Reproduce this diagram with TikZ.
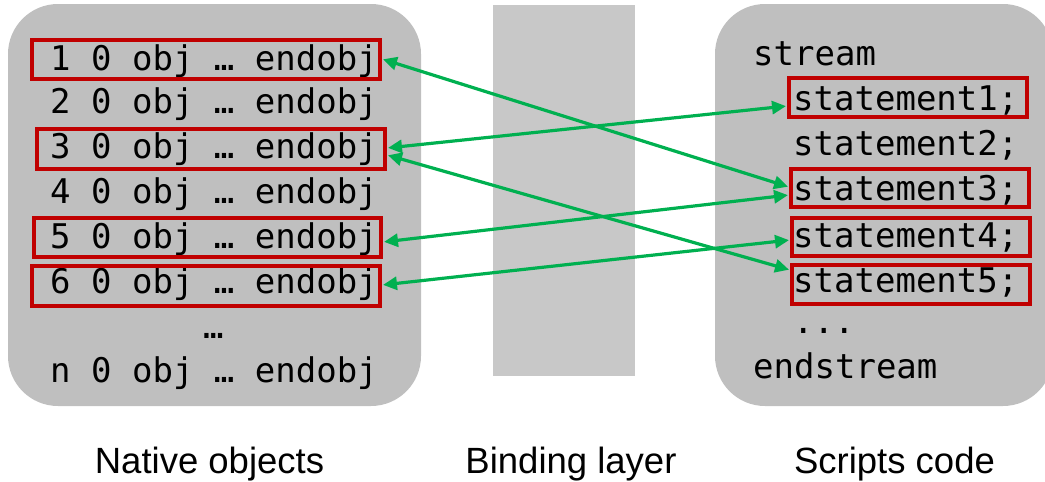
\documentclass[tikz,border=0pt]{standalone}
\usepackage{fontspec}
\setmainfont{Liberation Sans}
\newfontfamily\codefont{DejaVu Sans Mono}
\usetikzlibrary{arrows.meta}

\definecolor{panelgray}{HTML}{BFBFBF}
\definecolor{layergray}{HTML}{C8C8C8}
\definecolor{markred}{HTML}{C00000}
\definecolor{linkgreen}{HTML}{00B050}

\tikzset{
  panel/.style={fill=panelgray, draw=none, rounded corners=50pt},
  code/.style={anchor=base west, inner sep=0pt, font=\codefont\fontsize{34}{40}\selectfont},
  hilite/.style={draw=markred, line width=4pt, rectangle, inner sep=0pt},
  caption/.style={anchor=base, inner sep=0pt, font=\fontsize{36.5}{42}\selectfont},
  link/.style={draw=linkgreen, line width=3.2pt,
    {Triangle[length=14pt,width=13pt]}-{Triangle[length=14pt,width=13pt]}, shorten <=1pt, shorten >=1pt}
}

\begin{document}
\begin{tikzpicture}[x=1pt, y=-1pt]
  \useasboundingbox (0,0) rectangle (1045,482);

  % panels
  \begin{scope}
    \clip (0,0) rectangle (1045,482);
    \fill[panel] (8,4) rectangle (421,406);
    \fill[panel] (715,4) rectangle (1053,406);
  \end{scope}
  \fill[layergray] (493,5) rectangle (635,376);

  % native objects
  \node[code] (o1) at (50,70)  {1 0 obj … endobj};
  \node[code] (o2) at (50,113) {2 0 obj … endobj};
  \node[code] (o3) at (50,158) {3 0 obj … endobj};
  \node[code] (o4) at (50,203) {4 0 obj … endobj};
  \node[code] (o5) at (50,248) {5 0 obj … endobj};
  \node[code] (o6) at (50,293) {6 0 obj … endobj};
  \node[code] (od) at (203,338) {…};
  \node[code] (on) at (50,382) {n 0 obj … endobj};

  % script code
  \node[code] (st) at (753,65)  {stream};
  \node[code] (c1) at (793,110) {statement1;};
  \node[code] (c2) at (793,155) {statement2;};
  \node[code] (c3) at (793,200) {statement3;};
  \node[code] (c4) at (793,247) {statement4;};
  \node[code] (c5) at (793,292) {statement5;};
  \node[code] (cd) at (793,333) {...};
  \node[code] (es) at (753,378) {endstream};

  % highlighted entries
  \node[hilite, minimum width=348pt, minimum height=39pt] (b1) at (206,59.5) {};
  \node[hilite, minimum width=348pt, minimum height=40pt] (b3) at (211,149) {};
  \node[hilite, minimum width=347pt, minimum height=39pt] (b5) at (207.5,237.5) {};
  \node[hilite, minimum width=348pt, minimum height=40pt] (b6) at (206,286) {};
  \node[hilite, minimum width=238pt, minimum height=39pt] (s1) at (908,97.5) {};
  \node[hilite, minimum width=238pt, minimum height=38pt] (s3) at (910,188) {};
  \node[hilite, minimum width=238pt, minimum height=38pt] (s4) at (911,237) {};
  \node[hilite, minimum width=238pt, minimum height=39pt] (s5) at (911,284.5) {};

  % bindings
  \draw[link] ([yshift=0.5pt]b1.east) -- ([yshift=1pt]s3.west);
  \draw[link] ([yshift=-8.5pt]s1.west) -- ([yshift=1pt]b3.east);
  \draw[link] ([yshift=-6pt]b3.east) -- ([yshift=14.5pt]s5.west);
  \draw[link] ([yshift=-7pt]s3.west) -- ([yshift=-4.5pt]b5.east);
  \draw[link] ([yshift=-3pt]s4.west) -- ([yshift=1pt]b6.east);

  % captions
  \node[caption] (cap1) at (209.5,473) {Native objects};
  \node[caption] (cap2) at (571,473) {Binding layer};
  \node[caption] (cap3) at (894.5,473) {Scripts code};
\end{tikzpicture}
\end{document}
